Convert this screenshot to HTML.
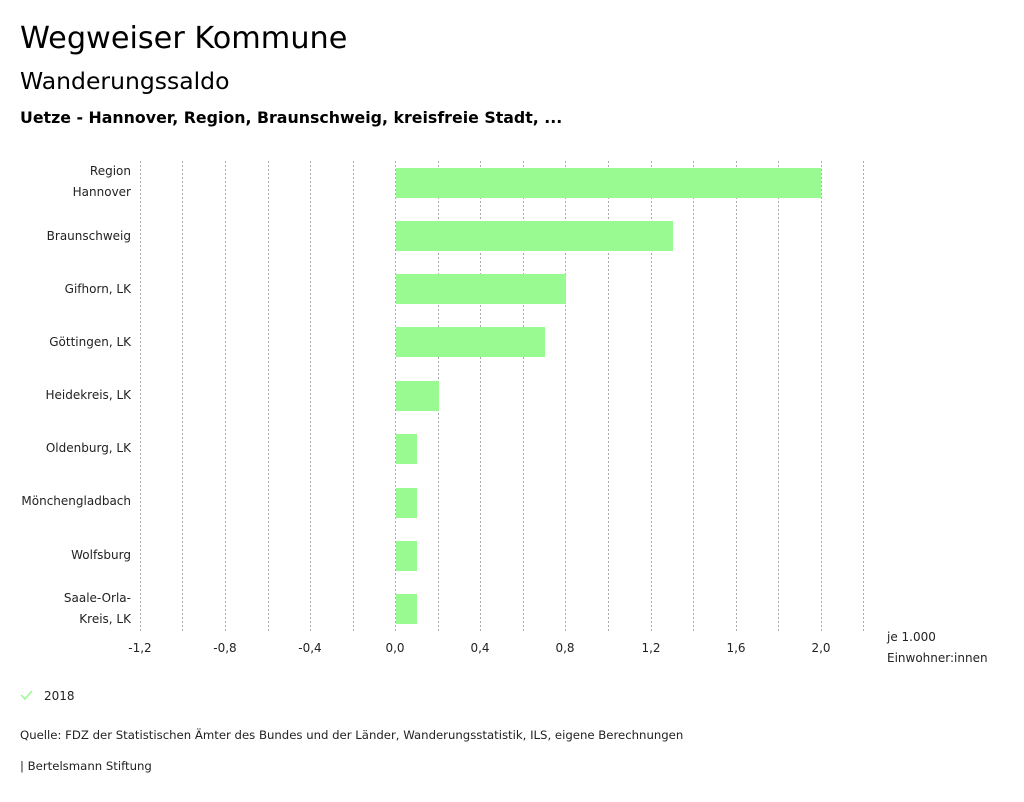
<!DOCTYPE html>
<html><head><meta charset="utf-8"><style>
body{margin:0;background:#fff;width:1024px;height:798px;overflow:hidden;font-family:"DejaVu Sans",sans-serif;color:#000}
</style></head><body>
<svg width="1024" height="798" xmlns="http://www.w3.org/2000/svg" font-family="DejaVu Sans, sans-serif">
<text x="20" y="48" font-size="30.3">Wegweiser Kommune</text>
<text x="20" y="89" font-size="23.5">Wanderungssaldo</text>
<text x="20" y="123" font-size="15.8" font-weight="bold">Uetze - Hannover, Region, Braunschweig, kreisfreie Stadt, ...</text>
<g stroke="#aaa" stroke-dasharray="2,2" stroke-width="1">
<line x1="140.5" y1="161" x2="140.5" y2="632"/><line x1="182.5" y1="161" x2="182.5" y2="632"/>
<line x1="225.5" y1="161" x2="225.5" y2="632"/><line x1="268.5" y1="161" x2="268.5" y2="632"/>
<line x1="310.5" y1="161" x2="310.5" y2="632"/><line x1="353.5" y1="161" x2="353.5" y2="632"/>
<line x1="395.5" y1="161" x2="395.5" y2="632"/><line x1="438.5" y1="161" x2="438.5" y2="632"/>
<line x1="480.5" y1="161" x2="480.5" y2="632"/><line x1="523.5" y1="161" x2="523.5" y2="632"/>
<line x1="565.5" y1="161" x2="565.5" y2="632"/><line x1="608.5" y1="161" x2="608.5" y2="632"/>
<line x1="651.5" y1="161" x2="651.5" y2="632"/><line x1="693.5" y1="161" x2="693.5" y2="632"/>
<line x1="736.5" y1="161" x2="736.5" y2="632"/><line x1="778.5" y1="161" x2="778.5" y2="632"/>
<line x1="821.5" y1="161" x2="821.5" y2="632"/><line x1="863.5" y1="161" x2="863.5" y2="632"/>
</g>
<g fill="#98fa90">
<rect x="396" y="168" width="425" height="30"/>
<rect x="396" y="221" width="277" height="30"/>
<rect x="396" y="274" width="170" height="30"/>
<rect x="396" y="327" width="149" height="30"/>
<rect x="396" y="381" width="43" height="30"/>
<rect x="396" y="434" width="21" height="30"/>
<rect x="396" y="488" width="21" height="30"/>
<rect x="396" y="541" width="21" height="30"/>
<rect x="396" y="594" width="21" height="30"/>
</g>
<g font-size="12" text-anchor="end" fill="#222">
<text x="131" y="175">Region</text><text x="131" y="196">Hannover</text>
<text x="131" y="240">Braunschweig</text>
<text x="131" y="293">Gifhorn, LK</text>
<text x="131" y="346">Göttingen, LK</text>
<text x="131" y="399">Heidekreis, LK</text>
<text x="131" y="452">Oldenburg, LK</text>
<text x="131" y="505">Mönchengladbach</text>
<text x="131" y="559">Wolfsburg</text>
<text x="131" y="602">Saale-Orla-</text><text x="131" y="623">Kreis, LK</text>
</g>
<g font-size="12" text-anchor="middle" fill="#222">
<text x="140" y="652">-1,2</text><text x="225" y="652">-0,8</text><text x="310" y="652">-0,4</text>
<text x="395" y="652">0,0</text><text x="480" y="652">0,4</text><text x="565" y="652">0,8</text>
<text x="651" y="652">1,2</text><text x="736" y="652">1,6</text><text x="821" y="652">2,0</text>
</g>
<text x="887" y="641" font-size="12" fill="#222">je 1.000</text>
<text x="887" y="662" font-size="12" fill="#222">Einwohner:innen</text>
<polyline points="21,695 25,699 32,691" fill="none" stroke="#98fa90" stroke-width="1.5"/>
<text x="44" y="700" font-size="12" fill="#222">2018</text>
<text x="20" y="739" font-size="11.7" fill="#222">Quelle: FDZ der Statistischen Ämter des Bundes und der Länder, Wanderungsstatistik, ILS, eigene Berechnungen</text>
<text x="20" y="770" font-size="11.7" fill="#222">| Bertelsmann Stiftung</text>
</svg>
</body></html>
